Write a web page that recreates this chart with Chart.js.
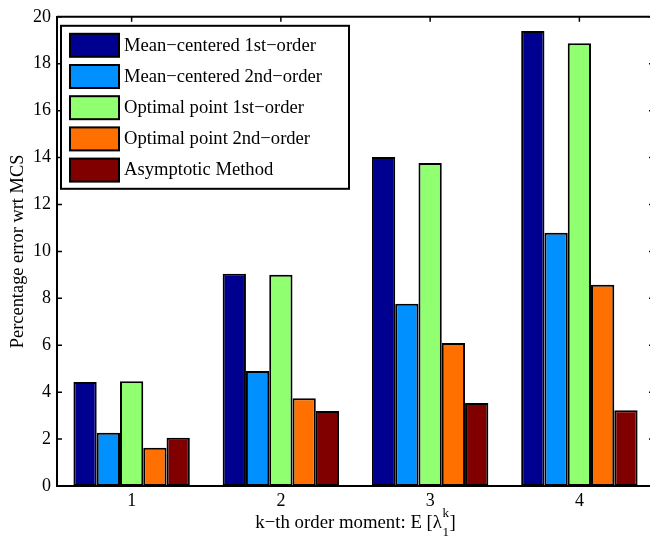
<!DOCTYPE html>
<html>
<head>
<meta charset="utf-8">
<script src="https://cdn.jsdelivr.net/npm/chart.js@4"></script>
<style>
  html, body { margin: 0; padding: 0; background: #fff; overflow: hidden; }
  #wrap { width: 650px; height: 540px; overflow: hidden; position: relative; }
  canvas { display: block; }
</style>
</head>
<body>
<div id="wrap"><canvas id="c" width="660" height="540"></canvas></div>
<script>
// moment order k on the x axis
const categories = ['1', '2', '3', '4'];

// percentage error relative to Monte Carlo simulation, per method
const meanCentered1st = [4.43, 9.05, 14.02, 19.40];
const meanCentered2nd = [2.27, 4.90, 7.77, 10.80];
const optimalPoint1st = [4.46, 9.00, 13.77, 18.87];
const optimalPoint2nd = [1.63, 3.74, 6.10, 8.58];
const asymptotic      = [2.06, 3.20, 3.54, 3.23];

const seriesNames = [
  'Mean\u2212centered 1st\u2212order',
  'Mean\u2212centered 2nd\u2212order',
  'Optimal point 1st\u2212order',
  'Optimal point 2nd\u2212order',
  'Asymptotic Method'
];
const seriesColors = ['#000090', '#0090ff', '#90ff70', '#ff7000', '#800000'];

const yTicks = [0, 2, 4, 6, 8, 10, 12, 14, 16, 18, 20];

const SERIF = '"Liberation Serif", "Times New Roman", serif';

const datasets = [meanCentered1st, meanCentered2nd, optimalPoint1st, optimalPoint2nd, asymptotic]
  .map((values, i) => ({
    label: seriesNames[i],
    data: values,
    backgroundColor: seriesColors[i],
    borderColor: '#000',
    borderWidth: 2,
    borderSkipped: false,
    categoryPercentage: 0.78,
    barPercentage: 1.0
  }));

// box frame with inward ticks on all four sides
const framePlugin = {
  id: 'frame',
  afterDatasetsDraw(chart) {
    const { ctx, chartArea: a, scales: { x, y } } = chart;
    ctx.save();
    ctx.strokeStyle = '#000';
    ctx.lineWidth = 2;
    ctx.beginPath();
    ctx.moveTo(a.left, a.top); ctx.lineTo(a.right, a.top);
    ctx.moveTo(a.right, a.top); ctx.lineTo(a.right, a.bottom);
    ctx.stroke();
    ctx.lineWidth = 1.5;
    ctx.beginPath();
    yTicks.forEach(v => {
      const py = y.getPixelForValue(v);
      ctx.moveTo(a.left, py); ctx.lineTo(a.left + 5, py);
      ctx.moveTo(a.right, py); ctx.lineTo(a.right - 5, py);
    });
    categories.forEach((c, i) => {
      const px = x.getPixelForValue(i);
      ctx.moveTo(px, a.top); ctx.lineTo(px, a.top + 5);
    });
    ctx.stroke();
    ctx.restore();
  }
};

// boxed legend in the upper-left corner of the axes
const legendPlugin = {
  id: 'boxLegend',
  afterDraw(chart) {
    const { ctx, chartArea: a } = chart;
    const left = a.left + 4, top = a.top + 9;
    const w = 288, h = 163;
    ctx.save();
    ctx.fillStyle = '#fff';
    ctx.fillRect(left, top, w, h);
    ctx.strokeStyle = '#000';
    ctx.lineWidth = 2;
    ctx.strokeRect(left, top, w, h);
    ctx.font = '18.6px ' + SERIF;
    ctx.textBaseline = 'middle';
    ctx.textAlign = 'left';
    chart.data.datasets.forEach((ds, i) => {
      const sy = top + 8 + i * 31.2;
      ctx.fillStyle = ds.backgroundColor;
      ctx.fillRect(left + 9, sy, 49, 23);
      ctx.lineWidth = 2;
      ctx.strokeRect(left + 9, sy, 49, 23);
      ctx.fillStyle = '#000';
      ctx.fillText(ds.label, left + 63, sy + 12);
    });
    ctx.restore();
  }
};

// x-axis title with stacked super/subscript on lambda
const xTitlePlugin = {
  id: 'xTitle',
  afterDraw(chart) {
    const { ctx, chartArea: a } = chart;
    const main = 'k\u2212th order moment: E [\u03bb';
    const sup = 'k', sub = '1', close = ']';
    ctx.save();
    ctx.fillStyle = '#000';
    ctx.textBaseline = 'alphabetic';
    ctx.textAlign = 'left';
    ctx.font = '18.8px ' + SERIF;
    const wMain = ctx.measureText(main).width;
    const wClose = ctx.measureText(close).width;
    ctx.font = '13px ' + SERIF;
    const wScript = Math.max(ctx.measureText(sup).width, ctx.measureText(sub).width);
    const total = wMain + wScript + 1 + wClose;
    const cx = (a.left + a.right) / 2;
    let x0 = cx - total / 2;
    const base = 528;
    ctx.font = '18.8px ' + SERIF;
    ctx.fillText(main, x0, base);
    ctx.font = '13px ' + SERIF;
    ctx.fillText(sup, x0 + wMain + 0.5, base - 11);
    ctx.fillText(sub, x0 + wMain + 0.5, base + 8);
    ctx.font = '18.8px ' + SERIF;
    ctx.fillText(close, x0 + wMain + wScript + 1, base);
    ctx.restore();
  }
};

new Chart(document.getElementById('c'), {
  type: 'bar',
  data: { labels: categories, datasets },
  options: {
    responsive: false,
    devicePixelRatio: 1,
    animation: false,
    layout: { padding: { top: 14, right: 6, left: 0, bottom: 0 } },
    plugins: { legend: { display: false }, tooltip: { enabled: false } },
    scales: {
      x: {
        type: 'category',
        offset: true,
        grid: { display: false, drawTicks: false },
        border: { display: true, color: '#000', width: 2 },
        ticks: { color: '#000', font: { family: SERIF, size: 18 }, padding: 4 },
        afterFit(scale) { scale.height = 54; }
      },
      y: {
        min: 0,
        max: 20,
        afterBuildTicks(scale) { scale.ticks = yTicks.map(v => ({ value: v })); },
        grid: { display: false, drawTicks: false },
        border: { display: true, color: '#000', width: 2 },
        ticks: { color: '#000', font: { family: SERIF, size: 18 }, padding: 6 },
        title: {
          display: true,
          text: 'Percentage error wrt MCS',
          color: '#000',
          font: { family: SERIF, size: 18.4 },
          padding: { top: 7, bottom: 0 }
        },
        afterFit(scale) { scale.width = 57; }
      }
    }
  },
  plugins: [framePlugin, legendPlugin, xTitlePlugin]
});
</script>
</body>
</html>
